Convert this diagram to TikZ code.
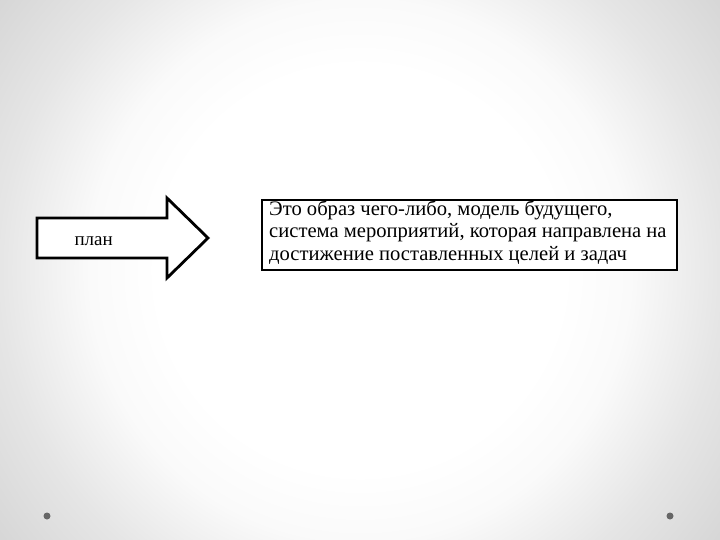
\documentclass[tikz,border=0pt]{standalone}
\usepackage{fontspec}
\setmainfont{Liberation Serif}
\pgfdeclareradialshading{vignette}{\pgfpoint{0bp}{0bp}}{color(0bp)=(white); color(28bp)=(white); color(37.5bp)=(black!2); color(50bp)=(black!10); color(62.5bp)=(black!16); color(72bp)=(black!17)}
\begin{document}
\begin{tikzpicture}[x=1pt,y=-1pt,
  arrowshape/.style={draw=black,line width=2.8pt,fill=white,line join=miter},
  defbox/.style={draw=black,line width=2.4pt,fill=white},
  dot/.style={circle,fill=black!60,inner sep=0pt,minimum size=7pt}]
\useasboundingbox (0,0) rectangle (720,540);
\begin{scope}
\clip (0,0) rectangle (720,540);
\pgftransformshift{\pgfpoint{360pt}{-270pt}}
\pgftransformscale{7.2}
\pgflowlevelsynccm
\pgfuseshading{vignette}
\end{scope}
\draw[arrowshape] (37,218) -- (167,218) -- (167,198) -- (208,238) -- (167,278) -- (167,258) -- (37,258) -- cycle;
\node[anchor=west,font=\fontsize{19}{22}\selectfont] (plan) at (71,241) {план};
\draw[defbox] (262,200) rectangle (677,270);
\node[anchor=north west,align=left,inner sep=0pt,font=\fontsize{20.6}{22.5}\selectfont] (def) at (269,200.5)
 {Это образ чего-либо, модель будущего,\\система мероприятий, которая направлена на\\достижение поставленных целей и задач};
\node[dot] (d1) at (47,516) {};
\node[dot] (d2) at (670,516) {};
\end{tikzpicture}
\end{document}
